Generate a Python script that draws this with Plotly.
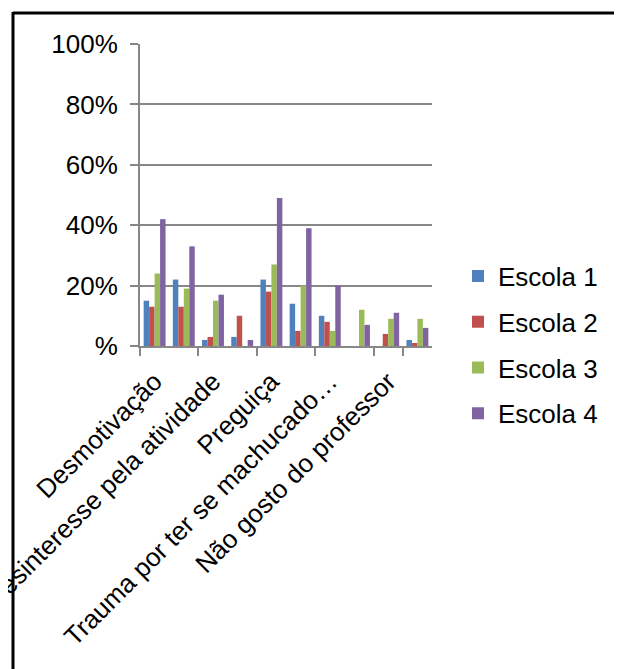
import plotly.graph_objects as go

categories = [
    "Desmotivação",
    "Cansaço",
    "Desinteresse pela atividade",
    "Vergonha",
    "Preguiça",
    "Falta de habilidade",
    "Trauma por ter se machucado nas aulas",
    "Não gosta de esportes",
    "Não gosto do professor",
    "Outros",
]
shown_labels = {
    "Desmotivação": "Desmotivação",
    "Desinteresse pela atividade": "Desinteresse pela atividade",
    "Preguiça": "Preguiça",
    "Trauma por ter se machucado nas aulas": "Trauma por ter se machucado…",
    "Não gosto do professor": "Não gosto do professor",
}

escola1 = [0.15, 0.22, 0.02, 0.03, 0.22, 0.14, 0.10, 0.00, 0.00, 0.02]
escola2 = [0.13, 0.13, 0.03, 0.10, 0.18, 0.05, 0.08, 0.00, 0.04, 0.01]
escola3 = [0.24, 0.19, 0.15, 0.00, 0.27, 0.20, 0.05, 0.12, 0.09, 0.09]
escola4 = [0.42, 0.33, 0.17, 0.02, 0.49, 0.39, 0.20, 0.07, 0.11, 0.06]

series = [
    ("Escola 1", escola1, "#4F81BD"),
    ("Escola 2", escola2, "#C0504D"),
    ("Escola 3", escola3, "#9BBB59"),
    ("Escola 4", escola4, "#8064A2"),
]

y_tickvals = [0, 0.2, 0.4, 0.6, 0.8, 1.0]
y_ticktext = ["%", "20%", "40%", "60%", "80%", "100%"]

FONT = "Liberation Sans, Arial, sans-serif"
GRAY = "#878787"

fig = go.Figure()
for i, (name, vals, color) in enumerate(series):
    fig.add_trace(go.Bar(
        x=categories, y=vals, name=name, marker_color=color,
        marker_line_width=0, legendgroup=str(i),
    ))

W, H = 622, 669
OFF = 8  # page body margin
# desired page-pixel positions of plot area
left_px, right_px, top_px, bottom_px = 140, 432, 44, 346
ml = left_px - OFF
mt = top_px - OFF
pw = right_px - left_px
ph = bottom_px - top_px
mr = W - ml - pw
mb = H - mt - ph

def px_x(p):
    return (p - left_px) / pw

def px_y(p):
    return (bottom_px - p) / ph

fig.update_layout(
    width=W, height=H,
    margin=dict(l=ml, r=mr, t=mt, b=mb, autoexpand=False),
    paper_bgcolor="white", plot_bgcolor="white",
    barmode="group", bargap=0.25, bargroupgap=0,
    font=dict(family=FONT, size=26, color="black"),
    showlegend=True,
    legend=dict(
        x=px_x(458), y=px_y(345), xanchor="left", yanchor="middle",
        font=dict(size=26, color="black"),
        tracegroupgap=9, traceorder="grouped",
        bgcolor="rgba(0,0,0,0)",
    ),
    xaxis=dict(
        type="category",
        tickmode="array",
        tickvals=list(shown_labels.keys()),
        ticktext=list(shown_labels.values()),
        tickangle=-45,
        tickfont=dict(size=26, color="black"),
        ticklabelstandoff=8,
        showline=True, linecolor=GRAY, linewidth=2,
        ticks="outside", tickson="boundaries", ticklen=8,
        tickcolor=GRAY, tickwidth=2,
        showgrid=False,
    ),
    yaxis=dict(
        range=[0, 1],
        tickmode="array", tickvals=y_tickvals, ticktext=y_ticktext,
        tickfont=dict(size=26, color="black"),
        ticklabelstandoff=7,
        showline=True, linecolor=GRAY, linewidth=2,
        ticks="outside", ticklen=8, tickcolor=GRAY, tickwidth=2,
        showgrid=True, gridcolor=GRAY, gridwidth=2,
        zeroline=False,
    ),
    shapes=[
        dict(type="line", xref="paper", yref="paper",
             x0=px_x(13), x1=px_x(640), y0=px_y(13), y1=px_y(13),
             line=dict(color="black", width=3)),
        dict(type="line", xref="paper", yref="paper",
             x0=px_x(13), x1=px_x(13), y0=px_y(12), y1=px_y(700),
             line=dict(color="black", width=3)),
    ],
)

fig.write_html("out.html")
